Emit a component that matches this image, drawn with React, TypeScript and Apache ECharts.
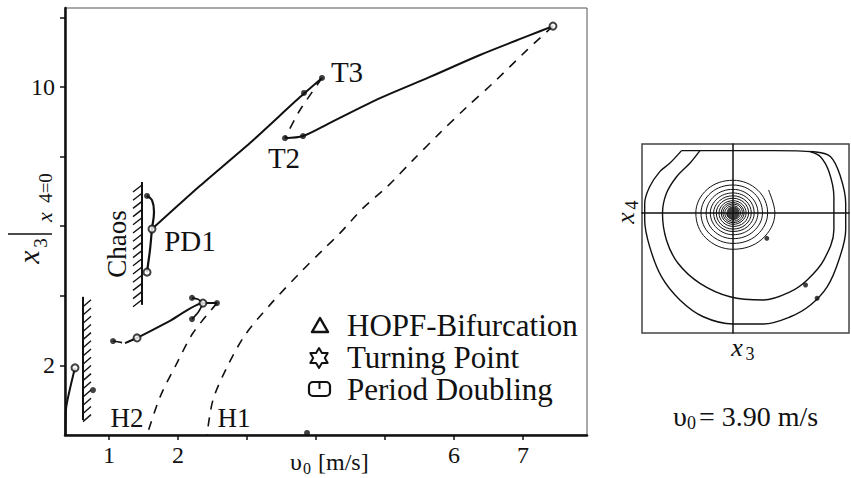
import React, { useEffect, useRef } from "react";
import * as echarts from "echarts";

const SERIF = '"Liberation Serif", "Times New Roman", serif';
const INK = "#111";

// ---- main diagram axes ----
const xTicks = [1, 2, 3, 4, 5, 6, 7];
const xLabels = [1, 2, 6, 7];
const yTicks = [2, 4, 6, 8, 10, 12];
const yLabels = [2, 10];

// ---- main diagram branches [v0, x3] ----
const upperBranch = [[1.623, 5.92], [2.319, 7.16], [3.043, 8.39], [3.768, 9.71], [4.087, 10.26]];
const t3ToT2 = [[4.087, 10.26], [3.768, 9.34], [3.565, 8.59], [3.551, 8.53]];
const t2Branch = [[3.551, 8.53], [3.812, 8.59], [4.203, 8.97], [4.928, 9.68], [5.652, 10.29], [6.377, 10.92], [7.101, 11.49], [7.435, 11.75]];
const hopf1Branch = [[7.435, 11.75], [7.058, 11.06], [6.565, 10.11], [6.188, 9.43], [5.797, 8.68], [5.406, 7.9], [5.029, 7.13], [4.681, 6.52], [4.348, 5.8], [4.101, 5.32], [3.768, 4.66], [3.333, 3.74], [2.971, 2.87], [2.71, 1.95], [2.507, 1.01], [2.42, 0]];
const hopf2Branch = [[2.565, 3.79], [2.217, 2.93], [1.986, 2.07], [1.739, 1.09], [1.551, 0]];
const lowerDashed = [[1.058, 2.7], [1.232, 2.64]];
const lowerBranch = [[1.232, 2.64], [1.406, 2.79], [1.884, 3.28], [2.362, 3.79], [2.565, 3.79]];
const turnUpper = [[2.203, 3.94], [2.29, 3.9], [2.362, 3.79]];
const turnLower = [[2.203, 3.33], [2.3, 3.55], [2.362, 3.79]];
const leftBranch = [[0.37, 0.0], [0.38, 0.8], [0.507, 1.93]];
const chaosLoop = [[1.551, 6.87], [1.623, 6.75], [1.652, 6.41], [1.623, 5.92], [1.594, 5.32], [1.565, 4.89], [1.551, 4.68]];
// chaos regions: [v0, top, bottom, side]
const chaosRegions = [[0.623, 3.97, 0.43, 1], [1.478, 7.27, 3.74, -1]];
const openPoints = [[1.623, 5.92], [1.551, 4.68], [1.406, 2.79], [0.507, 1.93], [7.435, 11.75], [2.362, 3.79]];
const filledPoints = [[4.087, 10.26], [3.826, 9.83], [3.551, 8.53], [3.812, 8.59], [1.551, 6.87], [1.058, 2.7], [0.768, 1.29], [2.203, 3.94], [2.565, 3.79], [2.203, 3.33], [3.87, 0.06]];

// ---- phase portrait [x3, x4] at v0 = 3.90 m/s ----
const phaseOuter = [[-2.49, 3.3], [-3.06, 2.63], [-3.54, 2.19], [-4.03, 1.39], [-4.27, 0.51], [-4.27, -0.37], [-4.03, -1.78], [-3.46, -3.37], [-2.57, -4.6], [-1.44, -5.49], [0.01, -5.87], [1.47, -5.87], [2.77, -5.49], [3.74, -4.87], [4.55, -3.9], [5.11, -2.49], [5.44, -0.9], [5.44, 0.51], [5.19, 1.92], [4.71, 2.98], [3.9, 3.24], [2.0, 3.3], [-2.49, 3.3]];
const phaseInner = [[-1.6, 3.3], [-2.09, 2.63], [-2.73, 1.92], [-3.22, 1.04], [-3.41, -0.02], [-3.22, -1.43], [-2.66, -2.66], [-1.6, -3.72], [-0.15, -4.43], [1.47, -4.6], [2.77, -4.16], [3.58, -3.54], [4.38, -2.49], [4.87, -0.9], [4.87, 0.86], [4.63, 2.19], [4.22, 2.98], [3.74, 3.24]];
const spiral = [[1.71, 1.22], [2.02, 0], [1.39, -1.39], [0, -1.92], [-1.32, -1.32], [-1.8, 0], [-1.25, 1.25], [0, 1.73], [1.2, 1.2], [1.67, 0], [1.16, -1.16], [0, -1.61], [-1.12, -1.12], [-1.55, 0], [-1.07, 1.07], [0, 1.48], [1.03, 1.03], [1.42, 0], [0.98, -0.98], [0, -1.36], [-0.94, -0.94], [-1.3, 0], [-0.9, 0.9], [0, 1.25], [0.86, 0.86], [1.2, 0], [0.83, -0.83], [0, -1.15], [-0.79, -0.79], [-1.1, 0], [-0.76, 0.76], [0, 1.06], [0.74, 0.74], [1.02, 0], [0.71, -0.71], [0, -0.98], [-0.68, -0.68], [-0.94, 0], [-0.65, 0.65], [0, 0.91], [0.63, 0.63], [0.88, 0], [0.61, -0.61], [0, -0.85], [-0.59, -0.59], [-0.81, 0], [-0.56, 0.56], [0, 0.78], [0.54, 0.54], [0.75, 0], [0.52, -0.52], [0, -0.71], [-0.49, -0.49], [-0.68, 0], [-0.47, 0.47], [0, 0.65], [0.45, 0.45], [0.63, 0], [0.43, -0.43], [0, -0.6], [-0.41, -0.41], [-0.57, 0], [-0.4, 0.4], [0, 0.55], [0.38, 0.38], [0.53, 0], [0.37, -0.37], [0, -0.51], [-0.35, -0.35], [-0.49, 0], [-0.34, 0.34], [0, 0.47], [0.33, 0.33], [0.45, 0], [0.31, -0.31], [0, -0.43], [-0.29, -0.29], [-0.4, 0], [-0.28, 0.28], [0, 0.38], [0.26, 0.26], [0.36, 0], [0.25, -0.25], [0, -0.34], [-0.23, -0.23], [-0.32, 0]];
const phaseMarks = [[4.06, -4.51], [3.5, -3.81], [1.63, -1.34]];
const phaseFocus = [[0, 0]];

const legendItems = ["HOPF-Bifurcation", "Turning Point", "Period Doubling"];

function lineSeries(data: number[][], opts: any = {}) {
  return {
    type: "line",
    data,
    symbol: "none",
    silent: true,
    smooth: opts.smooth ?? 0.3,
    xAxisIndex: opts.grid ?? 0,
    yAxisIndex: opts.grid ?? 0,
    lineStyle: { color: INK, width: opts.width ?? 2, type: opts.dashed ? [9, 8] : "solid" },
    z: 3,
    animation: false,
  };
}

function txt(text: string, x: number, y: number, size: number, extra: any = {}) {
  return {
    type: "text",
    x,
    y,
    rotation: extra.rotation ?? 0,
    silent: true,
    style: {
      text,
      fontFamily: SERIF,
      fontSize: size,
      fontStyle: extra.italic ? "italic" : "normal",
      fill: INK,
      textAlign: extra.align ?? "center",
      textVerticalAlign: "middle",
    },
  };
}

export default function App() {
  const ref = useRef<HTMLDivElement>(null);
  useEffect(() => {
    const chart = echarts.init(ref.current!, null, { renderer: "svg" });
    const hatch = {
      type: "custom",
      xAxisIndex: 0,
      yAxisIndex: 0,
      silent: true,
      data: chaosRegions,
      renderItem: (params: any, api: any) => {
        const x = api.value(0);
        const side = api.value(3);
        const top = api.coord([x, api.value(1)]);
        const bot = api.coord([x, api.value(2)]);
        const children: any[] = [
          { type: "line", shape: { x1: top[0], y1: top[1], x2: bot[0], y2: bot[1] }, style: { stroke: INK, lineWidth: 2 } },
        ];
        for (let y = top[1] + 3; y <= bot[1]; y += 8.2) {
          const shape = side > 0
            ? { x1: top[0], y1: y + 7, x2: top[0] + 8, y2: y }
            : { x1: top[0], y1: y, x2: top[0] - 9, y2: y + 7 };
          children.push({ type: "line", shape, style: { stroke: INK, lineWidth: 1.4 } });
        }
        return { type: "group", children };
      },
    };
    const option: any = {
      animation: false,
      backgroundColor: "#fff",
      textStyle: { fontFamily: SERIF },
      grid: [
        { left: 65, top: 8, width: 522, height: 427, show: true, borderColor: "#555", borderWidth: 1 },
        { left: 642, top: 144, width: 207, height: 189, show: true, borderColor: "#444", borderWidth: 1.5 },
      ],
      xAxis: [
        {
          type: "value", gridIndex: 0, min: 0.362, max: 7.928,
          axisLine: { show: true, onZero: false, lineStyle: { color: INK, width: 2.5 } },
          axisTick: { show: true, customValues: xTicks, length: 5, lineStyle: { color: INK, width: 1.5 } },
          axisLabel: { customValues: xLabels, fontSize: 24, fontFamily: SERIF, color: INK, margin: 8 },
          splitLine: { show: false },
        },
        {
          type: "value", gridIndex: 1, min: -4.4, max: 5.6,
          axisLine: { show: true, onZero: true, lineStyle: { color: INK, width: 1.5 } },
          axisTick: { show: false }, axisLabel: { show: false }, splitLine: { show: false },
        },
      ],
      yAxis: [
        {
          type: "value", gridIndex: 0, min: 0, max: 12.27,
          axisLine: { show: true, onZero: false, lineStyle: { color: INK, width: 2.5 } },
          axisTick: { show: true, customValues: yTicks, length: 5, lineStyle: { color: INK, width: 1.5 } },
          axisLabel: { customValues: yLabels, fontSize: 24, fontFamily: SERIF, color: INK, margin: 10 },
          splitLine: { show: false },
        },
        {
          type: "value", gridIndex: 1, min: -6.35, max: 3.65,
          axisLine: { show: true, onZero: true, lineStyle: { color: INK, width: 1.5 } },
          axisTick: { show: false }, axisLabel: { show: false }, splitLine: { show: false },
        },
      ],
      series: [
        hatch,
        lineSeries(upperBranch, { smooth: 0.2 }),
        lineSeries(t3ToT2, { dashed: true, width: 1.6, smooth: 0.2 }),
        lineSeries(t2Branch, { smooth: 0.3 }),
        lineSeries(hopf1Branch, { dashed: true, width: 1.6, smooth: 0.3 }),
        lineSeries(hopf2Branch, { dashed: true, width: 1.6, smooth: 0.3 }),
        lineSeries(lowerDashed, { dashed: true, width: 1.6 }),
        lineSeries(lowerBranch, { smooth: 0.2 }),
        lineSeries(turnUpper, { width: 1.6 }),
        lineSeries(turnLower, { width: 1.6 }),
        lineSeries(leftBranch, { smooth: 0.2 }),
        lineSeries(chaosLoop, { smooth: 0.4, width: 2.2 }),
        {
          type: "scatter", data: openPoints, symbol: "emptyCircle", symbolSize: 7, silent: true, z: 5,
          itemStyle: { color: INK, borderColor: INK, borderWidth: 1.5 },
        },
        {
          type: "scatter", data: filledPoints, symbol: "circle", symbolSize: 6, silent: true, z: 5,
          itemStyle: { color: INK },
        },
        lineSeries(phaseOuter, { grid: 1, width: 1.4, smooth: 0.35 }),
        lineSeries(phaseInner, { grid: 1, width: 1.4, smooth: 0.35 }),
        lineSeries(spiral, { grid: 1, width: 1, smooth: 0.38 }),
        {
          type: "scatter", xAxisIndex: 1, yAxisIndex: 1, data: phaseMarks, symbol: "circle", symbolSize: 5, silent: true, z: 5,
          itemStyle: { color: INK },
        },
        {
          type: "scatter", xAxisIndex: 1, yAxisIndex: 1, data: phaseFocus, symbol: "circle", symbolSize: 13, silent: true, z: 5,
          itemStyle: { color: INK },
        },
      ],
      graphic: [
        // y-axis title  x3 | x4=0 (rotated)
        {
          type: "group", x: 35, y: 272, rotation: Math.PI / 2, silent: true,
          children: [
            txt("x", 15, -7, 30, { italic: true }),
            txt("3", 29, 5, 19),
            { type: "line", shape: { x1: 38, y1: -27, x2: 38, y2: 17 }, style: { stroke: INK, lineWidth: 1.5 } },
            txt("x", 55, 9, 22, { italic: true }),
            txt("4=0", 84, 10, 19),
          ],
        },
        // x-axis title
        txt("υ", 290, 462, 24, { align: "left" }),
        txt("0", 303, 468, 16, { align: "left" }),
        txt("[m/s]", 318, 462, 24, { align: "left" }),
        // annotations
        txt("T3", 347, 72, 29),
        txt("T2", 284, 158, 29),
        txt("PD1", 190, 241, 29),
        txt("H2", 127, 418, 27),
        txt("H1", 234, 418, 27),
        txt("Chaos", 117, 244, 27, { rotation: Math.PI / 2 }),
        // legend symbols
        { type: "polygon", silent: true, shape: { points: [[312, 332], [320, 318], [328, 332]] }, style: { fill: "#fff", stroke: INK, lineWidth: 2.5, lineJoin: "round" } },
        {
          type: "polygon", silent: true,
          shape: { points: [[319, 348], [321.9, 353], [327.7, 353], [324.8, 358], [327.7, 363], [321.9, 363], [319, 368], [316.1, 363], [310.3, 363], [313.2, 358], [310.3, 353], [316.1, 353]] },
          style: { fill: "#fff", stroke: INK, lineWidth: 2, lineJoin: "round" },
        },
        { type: "rect", silent: true, shape: { x: 309, y: 382, width: 21, height: 14, r: 4 }, style: { fill: "#fff", stroke: INK, lineWidth: 2.2 } },
        { type: "line", silent: true, shape: { x1: 319.5, y1: 382, x2: 319.5, y2: 389 }, style: { stroke: INK, lineWidth: 2 } },
        txt(legendItems[0], 347, 325, 31, { align: "left" }),
        txt(legendItems[1], 347, 357, 31, { align: "left" }),
        txt(legendItems[2], 347, 389, 31, { align: "left" }),
        // phase-portrait labels
        {
          type: "group", x: 627, y: 213, rotation: Math.PI / 2, silent: true,
          children: [txt("x", -5, -2, 26, { italic: true }), txt("4", 8, 5, 18)],
        },
        txt("x", 737, 347, 26, { italic: true }),
        txt("3", 750, 354, 18),
        txt("υ", 673, 416, 28, { align: "left" }),
        txt("0", 687, 423, 18, { align: "left" }),
        txt("= 3.90 m/s", 699, 416, 28, { align: "left" }),
      ],
    };
    chart.setOption(option);
    return () => chart.dispose();
  }, []);
  return (
    <div
      ref={ref}
      style={{ position: "fixed", left: 0, top: 0, width: 851, height: 478, background: "#fff" }}
    />
  );
}
